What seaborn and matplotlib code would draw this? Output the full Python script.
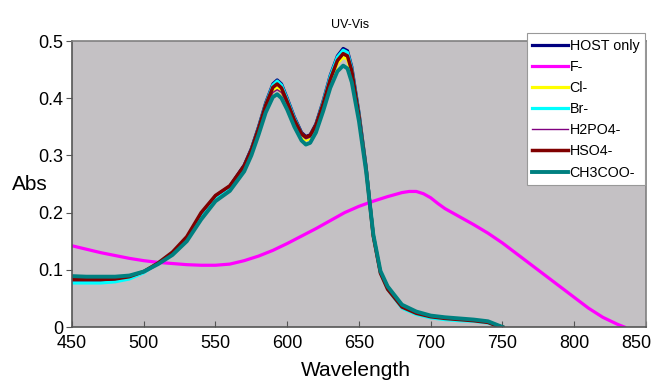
import matplotlib
matplotlib.use("Agg")
import matplotlib.pyplot as plt
import seaborn as sns
import pandas as pd

wavelength = [450, 460, 470, 480, 490, 500, 510, 520, 530, 540, 550, 560, 570, 575, 580, 585,
              590, 593, 596, 600, 605, 610, 613, 616, 620, 625, 630, 635, 639, 642, 645, 650,
              655, 660, 665, 670, 680, 690, 700, 710, 720, 730, 740, 745, 750]

host = [0.082, 0.082, 0.082, 0.083, 0.087, 0.096, 0.111, 0.129, 0.155, 0.197, 0.229, 0.246, 0.283, 0.312, 0.350, 0.392,
        0.425, 0.432, 0.425, 0.400, 0.367, 0.340, 0.333, 0.336, 0.355, 0.395, 0.440, 0.474, 0.487, 0.483, 0.455, 0.375,
        0.280, 0.160, 0.095, 0.070, 0.036, 0.025, 0.019, 0.016, 0.014, 0.012, 0.009, 0.004, 0.000]
cl = [0.085, 0.085, 0.085, 0.086, 0.089, 0.097, 0.111, 0.129, 0.155, 0.195, 0.226, 0.243, 0.278, 0.306, 0.342, 0.382,
      0.412, 0.418, 0.411, 0.388, 0.357, 0.333, 0.327, 0.330, 0.348, 0.385, 0.428, 0.461, 0.472, 0.468, 0.442, 0.366,
      0.275, 0.160, 0.096, 0.070, 0.037, 0.025, 0.019, 0.016, 0.014, 0.012, 0.009, 0.004, 0.000]
br = [0.077, 0.077, 0.077, 0.079, 0.084, 0.095, 0.112, 0.130, 0.155, 0.195, 0.227, 0.244, 0.281, 0.310, 0.348, 0.390,
      0.423, 0.430, 0.423, 0.398, 0.365, 0.338, 0.331, 0.334, 0.353, 0.393, 0.438, 0.472, 0.484, 0.480, 0.452, 0.373,
      0.278, 0.162, 0.095, 0.066, 0.033, 0.022, 0.016, 0.013, 0.011, 0.010, 0.007, 0.003, 0.000]
h2po4 = [0.084, 0.084, 0.084, 0.085, 0.088, 0.096, 0.111, 0.130, 0.157, 0.198, 0.228, 0.245, 0.280, 0.307, 0.343, 0.383,
         0.410, 0.415, 0.410, 0.389, 0.359, 0.335, 0.329, 0.332, 0.350, 0.387, 0.430, 0.464, 0.476, 0.472, 0.446, 0.368,
         0.276, 0.160, 0.095, 0.068, 0.036, 0.024, 0.018, 0.015, 0.013, 0.011, 0.008, 0.003, 0.000]
hso4 = [0.083, 0.083, 0.083, 0.084, 0.088, 0.097, 0.112, 0.131, 0.158, 0.200, 0.230, 0.247, 0.282, 0.310, 0.347, 0.388,
        0.419, 0.425, 0.418, 0.394, 0.362, 0.338, 0.332, 0.335, 0.353, 0.390, 0.433, 0.466, 0.478, 0.474, 0.448, 0.370,
        0.276, 0.159, 0.094, 0.066, 0.035, 0.024, 0.018, 0.015, 0.013, 0.011, 0.008, 0.003, 0.000]
ch3coo = [0.089, 0.088, 0.088, 0.088, 0.090, 0.097, 0.110, 0.126, 0.150, 0.188, 0.220, 0.238, 0.272, 0.300, 0.336, 0.375,
          0.402, 0.407, 0.400, 0.380, 0.350, 0.326, 0.319, 0.322, 0.340, 0.377, 0.418, 0.447, 0.457, 0.452, 0.428, 0.360,
          0.272, 0.162, 0.098, 0.071, 0.039, 0.027, 0.020, 0.017, 0.015, 0.013, 0.010, 0.005, 0.000]

f_wavelength = [450, 460, 470, 480, 490, 500, 510, 520, 530, 540, 550, 560, 570, 580, 590, 600, 610, 620, 630, 640,
                650, 660, 670, 680, 685, 690, 695, 700, 705, 710, 720, 730, 740, 750, 760, 770, 780, 790, 800, 810,
                820, 830, 835]
f_minus = [0.142, 0.136, 0.130, 0.125, 0.120, 0.116, 0.113, 0.111, 0.109, 0.108, 0.108, 0.110, 0.116, 0.124, 0.134,
           0.146, 0.159, 0.172, 0.186, 0.200, 0.211, 0.220, 0.228, 0.235, 0.237, 0.237, 0.233, 0.226, 0.216, 0.207,
           0.193, 0.179, 0.164, 0.147, 0.128, 0.109, 0.090, 0.071, 0.052, 0.033, 0.017, 0.005, 0.000]

series_names = ["HOST only", "F-", "Cl-", "Br-", "H2PO4-", "HSO4-", "CH3COO-"]
x_ticks = [450, 500, 550, 600, 650, 700, 750, 800, 850]
x_tick_labels = ["450", "500", "550", "600", "650", "700", "750", "800", "850"]
y_ticks = [0, 0.1, 0.2, 0.3, 0.4, 0.5]
y_tick_labels = ["0", "0.1", "0.2", "0.3", "0.4", "0.5"]

colors = ["#000080", "#FF00FF", "#FFFF00", "#00FFFF", "#800080", "#800000", "#008080"]
widths = [2.3, 2.3, 2.3, 2.3, 1.0, 2.5, 2.8]

fig = plt.figure(figsize=(6.55, 3.81), dpi=100)
ax = fig.add_axes([0.110, 0.1417, 0.876, 0.7506])
ax.set_facecolor("#c4c1c4")

data_list = [(wavelength, host), (f_wavelength, f_minus), (wavelength, cl), (wavelength, br),
             (wavelength, h2po4), (wavelength, hso4), (wavelength, ch3coo)]
for (xs, ys), name, c, lw in zip(data_list, series_names, colors, widths):
    df = pd.DataFrame({"Wavelength": xs, "Abs": ys})
    sns.lineplot(data=df, x="Wavelength", y="Abs", ax=ax, color=c, linewidth=lw,
                 label=name, sort=False, estimator=None)

ax.set_xlim(450, 850)
ax.set_ylim(0, 0.5)
ax.set_xticks(x_ticks)
ax.set_yticks(y_ticks)
# last x label is drawn separately, shifted inward as in the reference
ax.set_xticklabels(x_tick_labels[:-1] + [""])
ax.set_yticklabels(y_tick_labels)
ax.tick_params(axis="x", direction="in", length=4, labelsize=13, pad=6, color="#555555")
ax.tick_params(axis="y", direction="out", length=4, labelsize=13, pad=2, color="#555555")
for lab in ax.get_xticklabels() + ax.get_yticklabels():
    lab.set_family("Liberation Sans")
ax.annotate(x_tick_labels[-1], xy=(x_ticks[-1], 0), xycoords="data", xytext=(4, -12),
            textcoords="offset points", fontsize=13, family="Liberation Sans",
            ha="right", va="center", annotation_clip=False)

for side in ["left", "bottom"]:
    ax.spines[side].set_color("#555555")
    ax.spines[side].set_linewidth(1.2)
for side in ["top", "right"]:
    ax.spines[side].set_color("#808080")
    ax.spines[side].set_linewidth(1.2)

ax.set_xlabel("")
ax.set_ylabel("")
fig.text(0.045, 1 - 185 / 381, "Abs", fontsize=15, family="Liberation Sans", ha="center", va="center")
fig.text(0.543, 1 - 371 / 381, "Wavelength", fontsize=15, family="Liberation Sans", ha="center", va="center")
fig.text(0.535, 1 - 25 / 381, "UV-Vis", fontsize=9, family="Liberation Sans", ha="center", va="center")

leg = ax.legend(loc="upper right", bbox_to_anchor=(645 / 655, 1 - 33 / 381), bbox_transform=fig.transFigure,
                frameon=True, fancybox=False, framealpha=1, edgecolor="#999999", facecolor="white",
                prop={"family": "Liberation Sans", "size": 10.3}, handlelength=2.5, handletextpad=0.1,
                labelspacing=0.5, borderpad=0.4, borderaxespad=0)
leg.get_frame().set_linewidth(0.8)

fig.savefig("out.png", dpi=100)
